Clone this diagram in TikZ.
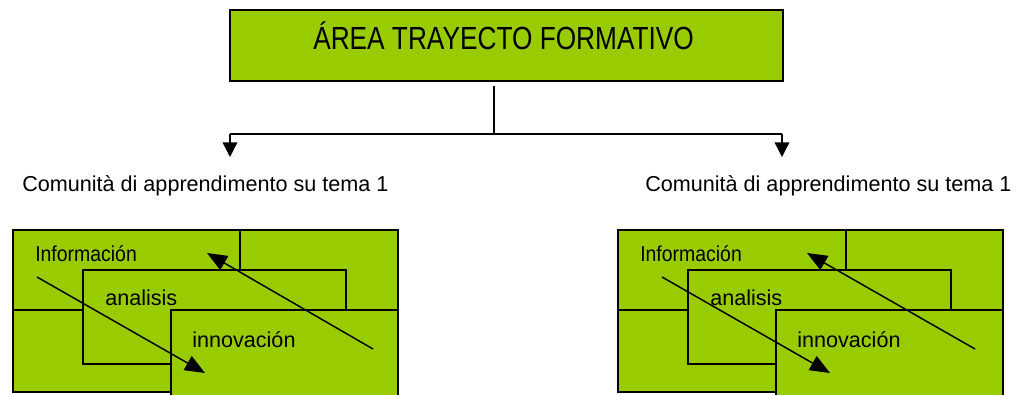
\documentclass[tikz,border=0pt]{standalone}
\usepackage{fontspec}
\setmainfont{Liberation Sans}
\newfontfamily\titlefont[FakeStretch=0.82]{Liberation Sans}
\newfontfamily\infofont[FakeStretch=0.9]{Liberation Sans}
\usetikzlibrary{arrows.meta}
\definecolor{boxgreen}{HTML}{99CC00}
\tikzset{
  gbox/.style={draw=black, fill=boxgreen, line width=1.1pt},
  lbl/.style={anchor=base west, inner sep=0pt, font=\fontsize{16.2pt}{19pt}\selectfont},
  conn/.style={line width=1.1pt, -{Triangle[length=11pt,width=11pt]}},
  flow/.style={line width=1.1pt, -{Triangle[length=15pt,width=12pt]}}
}
\begin{document}
\begin{tikzpicture}[x=0.75pt,y=-0.75pt]
\useasboundingbox (0,0) rectangle (1016,395);
\clip (0,0) rectangle (1016,395);
% top box
\draw[gbox] (230,10) rectangle (783,81);
\node[anchor=base west, inner sep=0pt, font=\titlefont\fontsize{24pt}{28pt}\selectfont] (title) at (313,50) {ÁREA TRAYECTO FORMATIVO};
\coordinate (top) at (494,86);
\coordinate (mid) at (494,134);
\coordinate (lt) at (230,134);
\coordinate (rt) at (782,134);
\coordinate (la) at (230,157);
\coordinate (ra) at (782,157);
\draw[line width=1.1pt] (top) -- (mid);
\draw[line width=1.1pt] (lt) -- (rt);
\draw[conn] (lt) -- (la);
\draw[conn] (rt) -- (ra);
\node[lbl] (cl) at (22,192) {Comunità di apprendimento su tema 1};
\node[lbl] (cr) at (645,192) {Comunità di apprendimento su tema 1};
% left block
\draw[gbox] (13,230) rectangle (240,310);
\draw[gbox] (240,230) rectangle (398,310);
\draw[gbox] (13,310) rectangle (398,392);
\draw[gbox] (83,270) rectangle (346,364);
\draw[gbox] (171,310) rectangle (398,420);
\node[lbl, font=\infofont\fontsize{16.2pt}{19pt}\selectfont] (il) at (35,262) {Información};
\node[lbl] (al) at (105,305) {analisis};
\node[lbl] (nl) at (192,347) {innovación};
\coordinate (a1s) at (37,277);
\coordinate (a1e) at (205,373);
\coordinate (a2s) at (373,349);
\coordinate (a2e) at (207,253);
\draw[flow] (a1s) -- (a1e);
\draw[flow] (a2s) -- (a2e);
% right block
\draw[gbox] (618,230) rectangle (846,310);
\draw[gbox] (846,230) rectangle (1003,310);
\draw[gbox] (618,310) rectangle (1003,392);
\draw[gbox] (688,270) rectangle (951,364);
\draw[gbox] (776,310) rectangle (1003,420);
\node[lbl, font=\infofont\fontsize{16.2pt}{19pt}\selectfont] (ir) at (640,262) {Información};
\node[lbl] (ar) at (710,305) {analisis};
\node[lbl] (nr) at (797,347) {innovación};
\coordinate (b1s) at (662,277);
\coordinate (b1e) at (830,373);
\coordinate (b2s) at (975,349);
\coordinate (b2e) at (807,253);
\draw[flow] (b1s) -- (b1e);
\draw[flow] (b2s) -- (b2e);
\end{tikzpicture}
\end{document}
